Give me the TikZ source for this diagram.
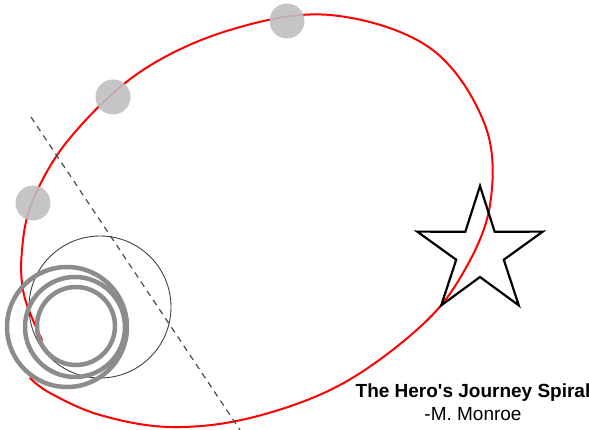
\documentclass[tikz,border=0pt]{standalone}
\usepackage{fontspec}
\newfontfamily\heroFont{Liberation Sans}
\usepackage{tikz}

\begin{document}
\begin{tikzpicture}[x=1pt,y=-1pt]
  \useasboundingbox (0,0) rectangle (589,430);
  \coordinate (O) at (100,307);
  \coordinate (S) at (480,252);
  % the spiral path
  \draw[red,line width=2pt,line cap=round] plot[smooth,tension=0.6] coordinates {
    (42,340) (24,295) (22,250) (33,200) (70,138) (140,72) (230,30)
    (330,15) (430,48) (485,125) (490,205) (463,273) (420,327)
    (340,385) (250,418) (170,427) (100,415) (50,393) (30,378)};
  \draw[black!70,line width=1.2pt,dash pattern=on 6pt off 5pt] (31,117) -- (240,430);
  \draw[black!75,line width=0.9pt] (O) circle (71);
  \draw[black!45,line width=4.5pt] (67,327) circle (60);
  \draw[black!45,line width=4.5pt] (75,327) circle (50);
  \draw[black!45,line width=4.5pt] (76,326) circle (39);
  \foreach \p in {(33,203),(113,97),(287,21)}
    \fill[black!25,opacity=0.9] \p circle (17.5);
  \begin{scope}[shift={(S)}]
    \draw[black,line width=2.2pt,line join=miter]
      (270:66) \foreach \k in {1,...,9}{ -- ({270+36*\k}:{ifthenelse(mod(\k,2)==0,66,25)}) } -- cycle;
  \end{scope}
  \node[anchor=base,font=\heroFont\bfseries\fontsize{19}{23}\selectfont] (title) at (473,397) {The Hero's Journey Spiral};
  \node[anchor=base,font=\heroFont\fontsize{19}{23}\selectfont] (author) at (473,420) {-M. Monroe};
\end{tikzpicture}
\end{document}
